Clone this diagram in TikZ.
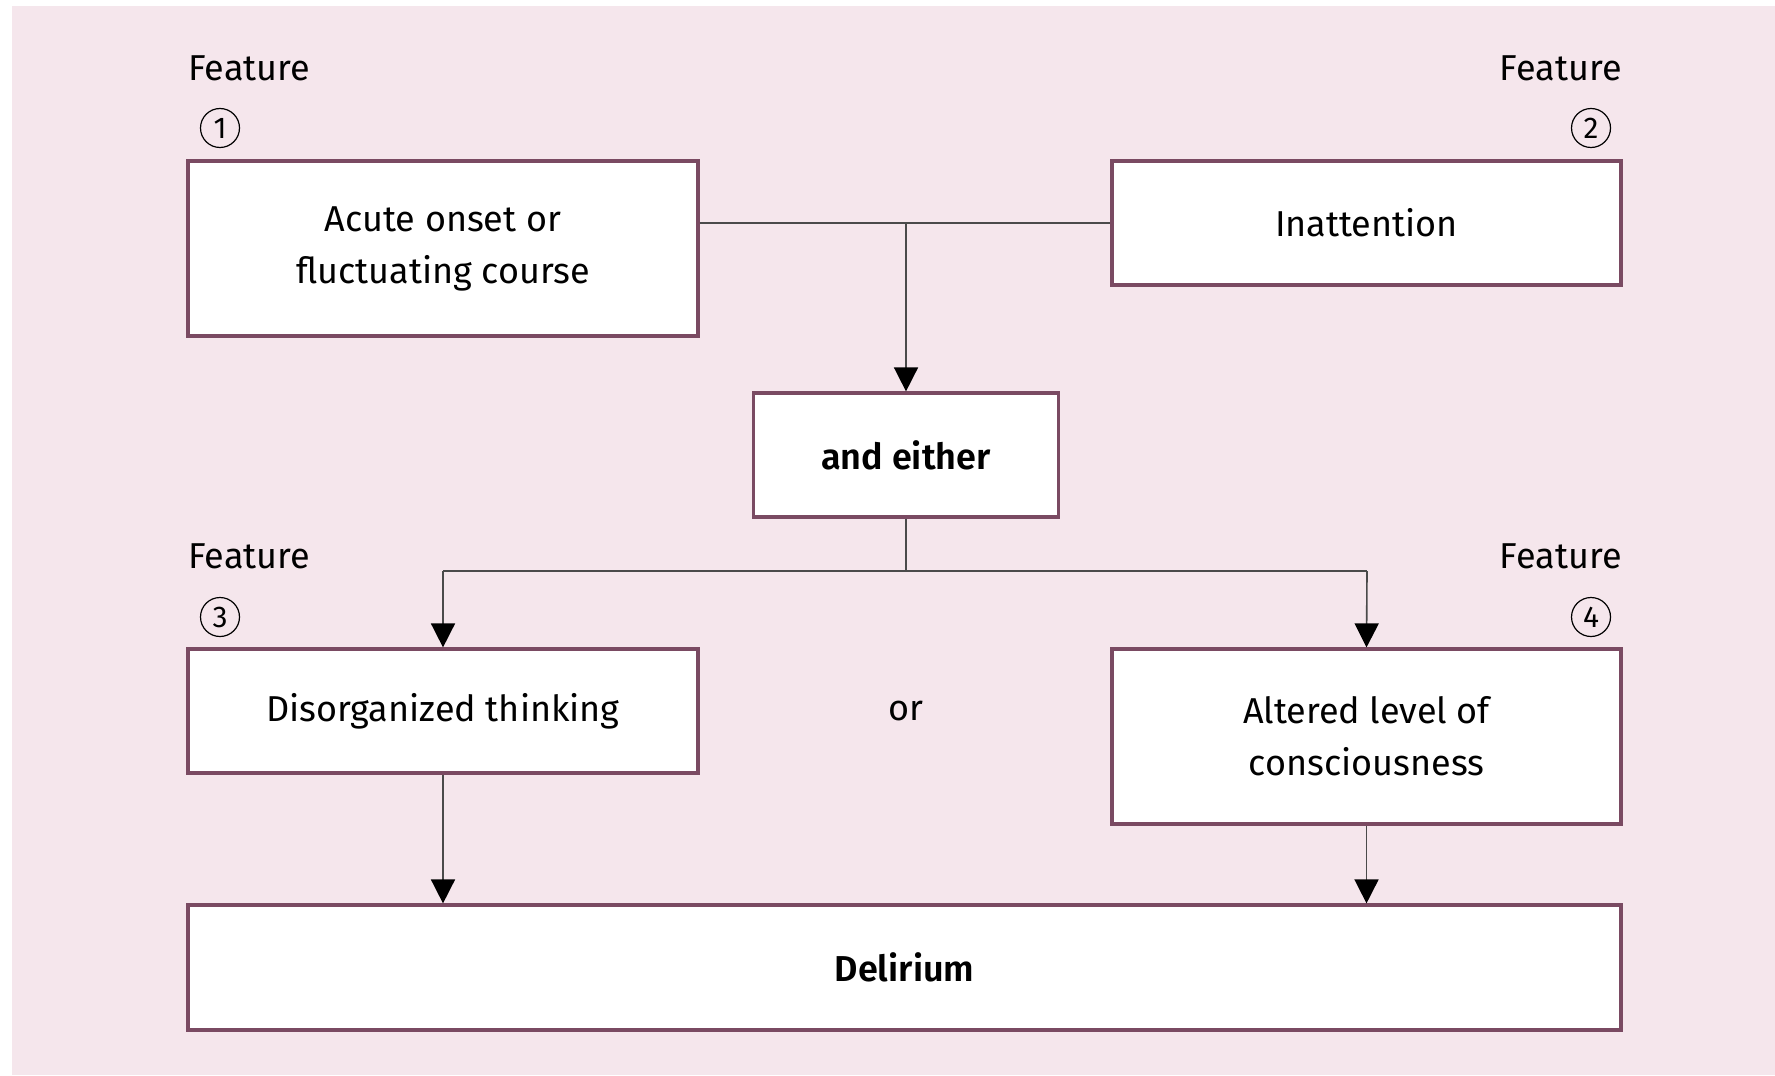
\documentclass[tikz,border=0pt]{standalone}
\usepackage{fontspec}
\setmainfont[BoldFont={Fira Sans SemiBold}]{Fira Sans}
\usetikzlibrary{arrows.meta}
\definecolor{bgpink}{HTML}{F5E6EC}
\definecolor{boxline}{HTML}{7A4A62}
\definecolor{conn}{HTML}{4A4A4A}
\tikzset{
  box/.style={draw=boxline, line width=1.6pt, fill=white, align=center, inner sep=0pt, font=\fontsize{18}{26}\selectfont},
  lbl/.style={inner sep=0pt, font=\fontsize{18}{20}\selectfont},
  num/.style={circle, draw=black, line width=0.6pt, inner sep=0pt, minimum size=19.5pt, font=\fontsize{15}{15}\selectfont},
  conn/.style={draw=conn, line width=0.8pt},
  arr/.style={conn, -{Triangle[length=12pt,width=12pt,color=black]}}
}
\begin{document}
\begin{tikzpicture}[x=0.5pt,y=-0.5pt]
\useasboundingbox (0,0) rectangle (1775,1075);
\fill[white] (0,0) rectangle (1775,1075);
\fill[bgpink] (12,6) rectangle (1775,1075);
% boxes
\node[box, minimum width=255pt, minimum height=87.5pt] (b1) at (443,248.5) {Acute onset or\\fluctuating course};
\node[box, minimum width=254.5pt, minimum height=62pt] (b2) at (1366.5,223) {Inattention};
\node[box, minimum width=152.5pt, minimum height=62pt, font=\fontsize{18}{20}\selectfont\bfseries] (b0) at (906,455) {and either};
\node[box, minimum width=255pt, minimum height=62pt] (b3) at (443,711) {Disorganized thinking};
\node[box, minimum width=254.5pt, minimum height=87.5pt] (b4) at (1366.5,736.5) {Altered level of\\consciousness};
\node[box, minimum width=716.5pt, minimum height=62.5pt, font=\fontsize{18}{20}\selectfont\bfseries] (b5) at (904.5,967.5) {Delirium};
\node[lbl] (orl) at (906,711) {or};
% feature labels
\node[lbl, anchor=west] (f1) at (188,68) {Feature};
\node[num] (n1) at (220,128) {1};
\node[lbl, anchor=east] (f2) at (1622,68) {Feature};
\node[num] (n2) at (1591,128) {2};
\node[lbl, anchor=west] (f3) at (188,556) {Feature};
\node[num] (n3) at (220,617) {3};
\node[lbl, anchor=east] (f4) at (1622,556) {Feature};
\node[num] (n4) at (1591,617) {4};
% connectors
\coordinate (j1) at (906,223);
\coordinate (j2) at (906,571);
\coordinate (l3) at (443,571);
\coordinate (r4) at (1367,571);
\draw[conn] (b1.east |- j1) -- (b2.west);
\draw[arr] (j1) -- (b0.north);
\draw[conn] (b0.south) -- (j2);
\draw[conn] (l3) -- (r4);
\draw[arr] (l3) -- (b3.north);
\draw[arr] (r4) -- (b4.north);
\draw[arr] (b3.south) -- (b3.south |- b5.north);
\draw[arr] (b4.south) -- (b4.south |- b5.north);
\end{tikzpicture}
\end{document}
